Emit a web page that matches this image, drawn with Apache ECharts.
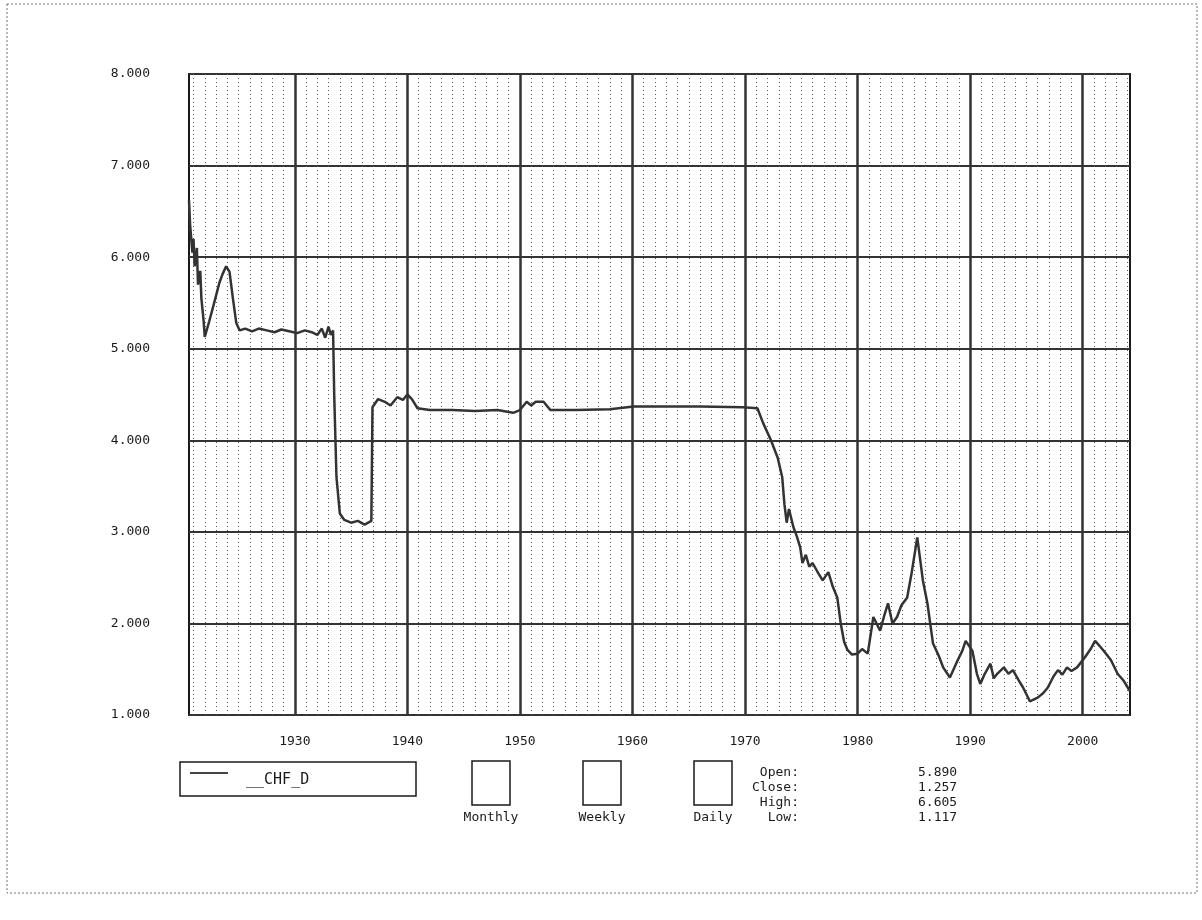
<!DOCTYPE html>
<html>
<head>
<meta charset="utf-8">
<script src="https://cdn.jsdelivr.net/npm/echarts@6/dist/echarts.min.js"></script>
<style>
html,body{margin:0;padding:0;background:#fff;}
#chart{width:1202px;height:920px;}
</style>
</head>
<body>
<div id="chart"></div>
<script>
// ---- data ----
const years = [1920.6,1920.7,1920.9,1921.0,1921.1,1921.3,1921.4,1921.6,1921.7,1921.9,1922.0,1922.4,1922.9,1923.3,1923.6,1923.9,1924.2,1924.5,1924.8,1925.1,1925.6,1926.2,1926.8,1927.5,1928.2,1928.8,1929.5,1930.2,1930.9,1931.5,1932.0,1932.4,1932.7,1933.0,1933.2,1933.4,1933.5,1933.7,1934.0,1934.4,1935.0,1935.6,1936.2,1936.8,1936.9,1937.4,1938.0,1938.5,1939.1,1939.6,1940.0,1940.4,1940.9,1942,1944,1946,1948,1949.4,1950.0,1950.6,1951.0,1951.4,1952.1,1952.7,1955,1958,1960.1,1963,1966,1969.8,1971.1,1971.6,1972.3,1972.9,1973.3,1973.5,1973.7,1973.9,1974.3,1974.6,1974.9,1975.1,1975.4,1975.7,1976.0,1976.5,1976.9,1977.4,1977.8,1978.2,1978.5,1978.8,1979.1,1979.5,1980.0,1980.4,1980.9,1981.4,1982.0,1982.4,1982.7,1983.1,1983.5,1983.9,1984.4,1984.8,1985.3,1985.8,1986.2,1986.7,1987.2,1987.6,1988.2,1988.9,1989.3,1989.6,1990.2,1990.6,1990.9,1991.3,1991.8,1992.1,1992.4,1993.0,1993.4,1993.8,1994.3,1994.7,1995.3,1996.0,1996.5,1996.9,1997.4,1997.8,1998.2,1998.6,1999.0,1999.5,2000.2,2000.7,2001.1,2001.6,2002.0,2002.5,2003.1,2003.6,2004.0,2004.2];
const rates = [6.62,6.35,6.05,6.2,5.9,6.1,5.7,5.85,5.55,5.3,5.13,5.3,5.53,5.72,5.82,5.9,5.84,5.55,5.28,5.2,5.22,5.19,5.22,5.2,5.18,5.21,5.19,5.17,5.2,5.18,5.15,5.22,5.12,5.24,5.15,5.2,4.5,3.6,3.2,3.13,3.1,3.12,3.08,3.12,4.36,4.45,4.42,4.38,4.47,4.44,4.5,4.45,4.35,4.33,4.33,4.32,4.33,4.3,4.33,4.42,4.38,4.42,4.42,4.33,4.33,4.34,4.37,4.37,4.37,4.36,4.35,4.19,4.0,3.81,3.6,3.3,3.1,3.25,3.05,2.95,2.83,2.66,2.75,2.62,2.66,2.55,2.47,2.56,2.4,2.28,2.0,1.8,1.71,1.66,1.67,1.72,1.67,2.07,1.92,2.1,2.22,2.0,2.07,2.2,2.28,2.55,2.94,2.47,2.22,1.78,1.65,1.52,1.41,1.6,1.7,1.81,1.7,1.45,1.34,1.45,1.56,1.4,1.45,1.52,1.45,1.49,1.38,1.3,1.15,1.19,1.24,1.3,1.42,1.49,1.44,1.52,1.48,1.52,1.63,1.72,1.81,1.74,1.68,1.6,1.45,1.38,1.3,1.26];
const decadeTicks = [1930,1940,1950,1960,1970,1980,1990,2000];
const yearTicks = [];
for (let y = 1921; y <= 2004; y++) yearTicks.push(y);
const seriesName = '__CHF_D';
const checkLabels = ['Monthly','Weekly','Daily'];
const statNames = ['Open:','Close:','High:','Low:'];
const statValues = ['5.890','1.257','6.605','1.117'];

const FONT = 'DejaVu Sans Mono';
const INK = '#1a1a1a';

const chart = echarts.init(document.getElementById('chart'), null, {renderer:'canvas'});

const graphics = [
  {type:'rect', shape:{x:7,y:4,width:1190,height:889}, style:{fill:null, stroke:'#777', lineWidth:1, lineDash:[2,2]}, z:-10},
  {type:'rect', shape:{x:180,y:762,width:236,height:34}, style:{fill:null, stroke:INK, lineWidth:1.5}},
  {type:'line', shape:{x1:190,y1:773,x2:228,y2:773}, style:{stroke:'#444', lineWidth:2}},
  {type:'text', x:246, y:780, style:{text:seriesName, font:'15px "'+FONT+'"', fill:INK, verticalAlign:'middle'}}
];
const boxX = [472, 583, 694];
checkLabels.forEach((lab,i)=>{
  graphics.push({type:'rect', shape:{x:boxX[i],y:761,width:38,height:44}, style:{fill:null, stroke:INK, lineWidth:1.5}});
  graphics.push({type:'text', x:boxX[i]+19, y:818, style:{text:lab, font:'13px "'+FONT+'"', fill:INK, align:'center', verticalAlign:'middle'}});
});
statNames.forEach((n,i)=>{
  graphics.push({type:'text', x:799, y:773+i*15, style:{text:n, font:'13px "'+FONT+'"', fill:INK, align:'right', verticalAlign:'middle'}});
  graphics.push({type:'text', x:918, y:773+i*15, style:{text:statValues[i], font:'13px "'+FONT+'"', fill:INK, align:'left', verticalAlign:'middle'}});
});

const option = {
  backgroundColor:'#fff',
  animation:false,
  grid:{left:189, top:74, width:941, height:641, show:true, borderColor:INK, borderWidth:2, backgroundColor:'transparent'},
  xAxis:[
    {type:'value', min:1920.6, max:2004.2, position:'bottom', z:2,
     axisLine:{show:false}, axisTick:{show:false, customValues:decadeTicks},
     axisLabel:{customValues:decadeTicks, formatter:v=>String(Math.round(v)), color:INK, fontFamily:FONT, fontSize:13, margin:20},
     splitLine:{show:true, lineStyle:{color:'#333', width:2.5}}},
    {type:'value', min:1920.6, max:2004.2, position:'top', z:1,
     axisLine:{show:false}, axisTick:{show:false, customValues:yearTicks},
     axisLabel:{show:false},
     splitLine:{show:true, lineStyle:{color:'#555', width:1, type:[1,3]}}}
  ],
  yAxis:{type:'value', min:1, max:8, interval:1,
    axisLine:{show:false}, axisTick:{show:false},
    axisLabel:{formatter:v=>v.toFixed(3), color:INK, fontFamily:FONT, fontSize:13, margin:39, padding:[10,0,0,0]},
    splitLine:{show:true, lineStyle:{color:'#333', width:2}}},
  series:[{type:'line', name:seriesName, xAxisIndex:0, data:years.map((y,i)=>[y,rates[i]]),
    showSymbol:false, lineStyle:{color:'#333', width:2.5}, z:5}],
  graphic:graphics
};
chart.setOption(option);
</script>
</body>
</html>
